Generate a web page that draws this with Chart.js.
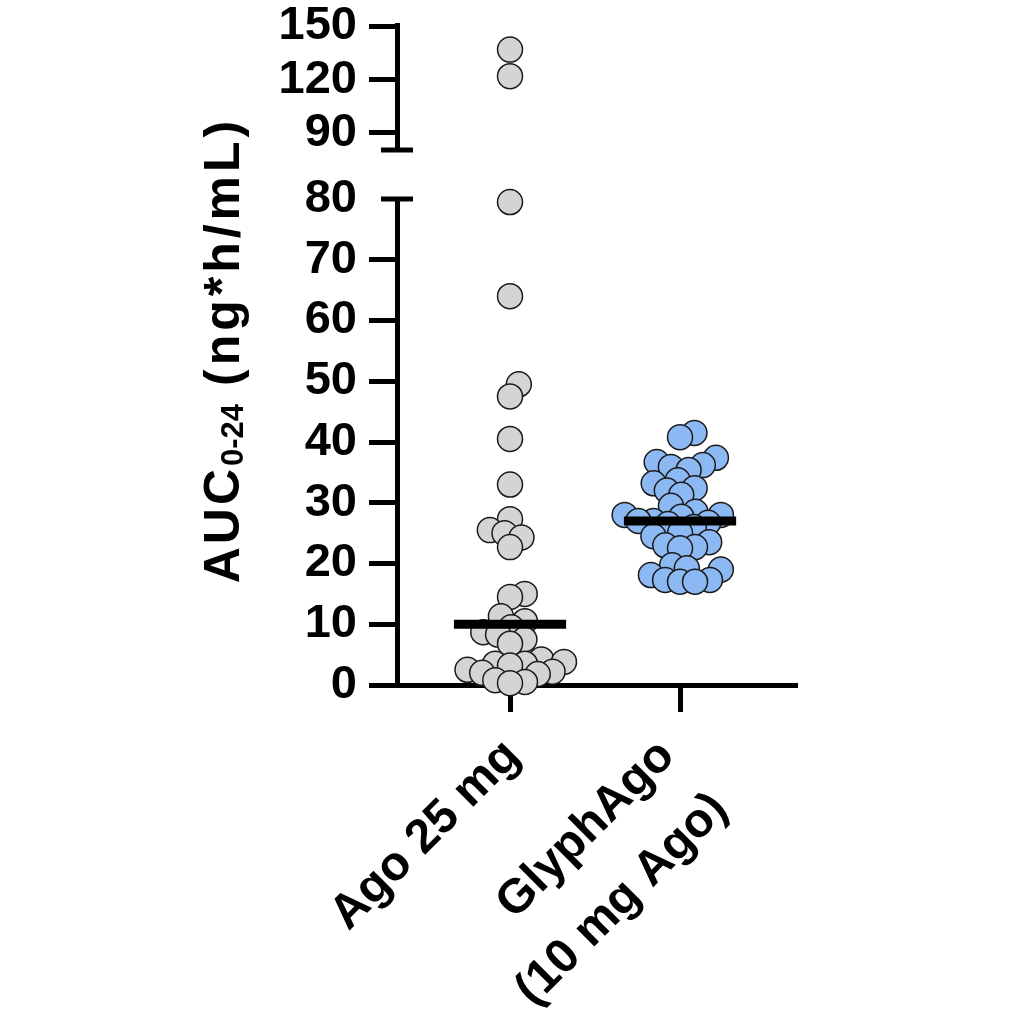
<!DOCTYPE html>
<html><head><meta charset="utf-8">
<script src="https://cdn.jsdelivr.net/npm/chart.js@4.4.1/dist/chart.umd.min.js"></script>
<style>html,body{margin:0;padding:0;background:#fff}#wrap{width:1024px;height:1024px}</style>
</head><body><div id="wrap"><canvas id="c" width="1024" height="1024"></canvas></div>
<script>
// ---- data ----
const categories = ['Ago 25 mg', ['GlyphAgo', '(10 mg Ago)']];
const agoValues = [137, 122, 79.5, 64, 49.5, 47.5, 40.5, 33, 27.3, 25.5, 25, 24.3, 22.7, 15, 14.5,
  11.3, 10.5, 9.5, 8.7, 8.3, 7.5, 6.8, 4.2, 3.8, 3.5, 3.5, 3.2, 2.5, 2.2, 2.0, 1.8, 0.8, 0.5, 0.3];
const glyphValues = [41.5, 40.8, 37.4, 36.7, 36.2, 35.9, 35.4, 33.7, 33.2, 32.4, 32.0, 31.3, 29.5,
  28.5, 28, 28, 27.7, 27.0, 27.0, 26.7, 26.5, 26, 25, 24.5, 23.5, 23, 22.7, 22.5, 19.7, 19.2, 19,
  18.1, 17.3, 17.3, 17, 17];
const lowerTicks = [0, 10, 20, 30, 40, 50, 60, 70, 80];
const upperTicks = [90, 120, 150];
const titleMain = 'AUC', titleSub = '0-24', titleRest = ' (ng*h/mL)';

// ---- helpers ----
const FONT = 'Liberation Sans';
const breakValue = 85;
function median(a) { const s = [...a].sort((p, q) => p - q); const n = s.length;
  return n % 2 ? s[(n - 1) / 2] : (s[n / 2 - 1] + s[n / 2]) / 2; }
const catPos = [1, 2];
const groupVals = [agoValues, glyphValues];
const fills = ['#d4d4d4', '#8cb8f3'];
const medHalf = 0.33;

const datasets = [];
groupVals.forEach((vals, g) => {
  const m = median(vals);
  datasets.push({ label: 'median' + g, data: [{ x: catPos[g] - medHalf, y: m }, { x: catPos[g] + medHalf, y: m }],
    showLine: true, borderColor: '#000', borderWidth: 9, pointRadius: 0, yAxisID: 'y', order: 0, clip: false,
    borderCapStyle: 'butt' });
});
groupVals.forEach((vals, g) => {
  const common = { pointRadius: 12.5, pointBackgroundColor: fills[g], pointBorderColor: '#1a1a1a',
    pointBorderWidth: 1.5, showLine: false, order: 1, clip: false, group: g };
  datasets.push(Object.assign({ label: 'low' + g, yAxisID: 'y',
    data: vals.filter(v => v <= breakValue).map(v => ({ x: catPos[g], y: v })) }, common));
  datasets.push(Object.assign({ label: 'high' + g, yAxisID: 'yTop',
    data: vals.filter(v => v > breakValue).map(v => ({ x: catPos[g], y: v })) }, common));
});

const tickFont = { family: FONT, weight: 'bold', size: 47 };
const noPad = s => { s.width = 397; s.paddingTop = 0; s.paddingBottom = 0; };

const decor = {
  id: 'decor',
  afterDraw(chart) {
    const ctx = chart.ctx, y = chart.scales.y, yt = chart.scales.yTop, xs = chart.scales.x;
    const ax = chart.chartArea.left;
    ctx.save();
    ctx.strokeStyle = '#000'; ctx.lineWidth = 5; ctx.lineCap = 'butt';
    [yt.bottom, y.top].forEach(py => {
      ctx.beginPath(); ctx.moveTo(ax - 16, py); ctx.lineTo(ax + 16, py); ctx.stroke();
    });
    ctx.fillStyle = '#000';
    // category labels (rotated 45 degrees, right aligned lines)
    ctx.font = 'bold 48px "' + FONT + '"';
    ctx.textAlign = 'right'; ctx.textBaseline = 'alphabetic';
    const lh = 75, d = lh * Math.SQRT1_2;
    catPos.forEach((cp, i) => {
      const lines = [].concat(categories[i]);
      const px = xs.getPixelForValue(cp);
      const bx = 12 - 15.5 * (lines.length - 1);
      lines.forEach((t, k) => {
        ctx.save();
        ctx.translate(px + bx + k * d, xs.top + 73 + k * d); ctx.rotate(-Math.PI / 4);
        ctx.fillText(t, 0, 0);
        ctx.restore();
      });
    });
    // axis title
    const big = 'bold 50px "' + FONT + '"', small = 'bold 31px "' + FONT + '"';
    ctx.textAlign = 'left';
    ctx.letterSpacing = '3px';
    ctx.font = big; const w1 = ctx.measureText(titleMain).width, w3 = ctx.measureText(titleRest).width;
    ctx.letterSpacing = '0px';
    ctx.font = small; const w2 = ctx.measureText(titleSub).width;
    const total = w1 + w2 + w3;
    ctx.translate(239, 355); ctx.rotate(-Math.PI / 2);
    let x0 = -total / 2;
    ctx.letterSpacing = '3px';
    ctx.font = big; ctx.fillText(titleMain, x0, 0); x0 += w1;
    ctx.letterSpacing = '0px';
    ctx.font = small; ctx.fillText(titleSub, x0, 4); x0 += w2;
    ctx.letterSpacing = '4px';
    ctx.font = big; ctx.fillText(titleRest, x0, 0);
    ctx.restore();
  }
};

const chart = new Chart(document.getElementById('c'), {
  type: 'scatter',
  data: { datasets },
  options: {
    responsive: false, animation: false, devicePixelRatio: 1,
    layout: { padding: { top: 25, right: 227, bottom: 0, left: 0 } },
    plugins: { legend: { display: false }, tooltip: { enabled: false } },
    scales: {
      x: {
        type: 'linear', min: 0.3353, max: 2.688,
        afterBuildTicks: s => { s.ticks = catPos.map(v => ({ value: v })); },
        afterFit: s => { s.height = 339; s.paddingLeft = 0; s.paddingRight = 0; },
        ticks: { display: false },
        grid: { drawOnChartArea: false, drawTicks: true, tickLength: 27, tickWidth: 5, tickColor: '#000' },
        border: { display: true, width: 5, color: '#000' }
      },
      y: {
        type: 'linear', position: 'left', stack: 'v', stackWeight: 486, min: 0, max: 80,
        afterBuildTicks: s => { s.ticks = lowerTicks.map(v => ({ value: v })); },
        afterFit: noPad,
        ticks: { font: tickFont, color: '#000', padding: 12, autoSkip: false },
        grid: { drawOnChartArea: false, tickLength: 28, tickWidth: 5,
          tickColor: c => (c.tick && c.tick.value === 80) ? 'rgba(0,0,0,0)' : '#000' },
        border: { display: true, width: 5, color: '#000' }
      },
      yGap: {
        type: 'linear', position: 'left', stack: 'v', stackWeight: 49, min: 0, max: 1,
        afterFit: noPad,
        ticks: { display: false }, grid: { display: false }, border: { display: false }
      },
      yTop: {
        type: 'linear', position: 'left', stack: 'v', stackWeight: 125, min: 80.4, max: 150.85,
        afterBuildTicks: s => { s.ticks = upperTicks.map(v => ({ value: v })); },
        afterFit: noPad,
        ticks: { font: tickFont, color: '#000', padding: 12, autoSkip: false },
        grid: { drawOnChartArea: false, tickLength: 28, tickWidth: 5, tickColor: '#000' },
        border: { display: true, width: 5, color: '#000' }
      }
    }
  },
  plugins: [decor]
});

// beeswarm arrangement of points computed from the scales
function applySwarm() {
  const xs = chart.scales.x;
  const D = 15;
  catPos.forEach((cp, g) => {
    const cx = xs.getPixelForValue(cp);
    const pts = [];
    chart.data.datasets.forEach(ds => {
      if (ds.group !== g) return;
      const sc = chart.scales[ds.yAxisID];
      ds.data.forEach(p => pts.push({ p, py: sc.getPixelForValue(p.y) }));
    });
    pts.sort((a, b) => b.py - a.py);
    const placed = [];
    pts.forEach(pt => {
      const near = placed.filter(q => Math.abs(q.py - pt.py) < D);
      const cands = [0];
      near.forEach(q => { const dx = Math.sqrt(D * D - (q.py - pt.py) ** 2);
        cands.push(q.off + dx + 0.01, q.off - dx - 0.01); });
      cands.sort((a, b) => Math.abs(a) - Math.abs(b));
      let off = 0;
      for (const c of cands) {
        if (near.every(q => (q.off - c) ** 2 + (q.py - pt.py) ** 2 >= D * D - 0.5)) { off = c; break; }
      }
      pt.off = off; placed.push(pt);
      pt.p.x = xs.getValueForPixel(cx + off);
    });
  });
  chart.update('none');
}
applySwarm();
</script></body></html>
